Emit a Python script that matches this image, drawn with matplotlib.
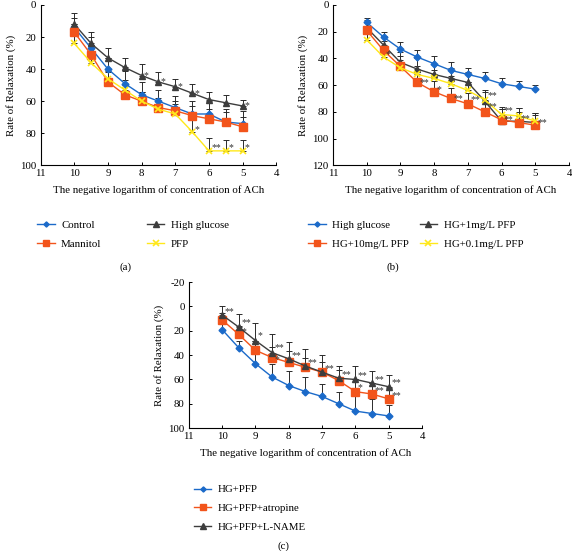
import numpy as np
import matplotlib
matplotlib.use("Agg")
import matplotlib.pyplot as plt

plt.rcParams['font.family'] = ['Liberation Serif', 'DejaVu Serif']
plt.rcParams['font.size'] = 7.8
plt.rcParams['axes.unicode_minus'] = False

# concentration points (-log[ACh])
x = [10, 9.5, 9, 8.5, 8, 7.5, 7, 6.5, 6, 5.5, 5]

# panel (a)
a_names = ['Control', 'High glucose', 'Mannitol', 'PFP']
a_control = [14, 27, 40, 49, 56, 60, 64, 68, 68, 73, 74]
a_control_err = [6, 7, 7, 8, 8, 7, 7, 8, 8, 8, 8]
a_hg = [12, 24, 33, 39, 44, 48, 51, 55, 59, 61, 63]
a_hg_err = [7, 7, 6, 6, 7, 6, 5, 6, 5, 5, 4]
a_mann = [17, 31, 48, 56, 60, 64, 66, 69, 71, 73, 76]
a_mann_err = [5, 6, 6, 6, 6, 6, 6, 6, 6, 6, 6]
a_pfp = [24, 36, 46, 53, 60, 65, 68, 79, 91, 91, 91]
a_pfp_err = [5, 5, 5, 6, 6, 6, 6, 7, 8, 7, 7]
a_stars = [(8, 44, '*'), (7.5, 48, '*'), (7, 51, '*'), (6.5, 55, '*'), (5, 63, '*'),
           (6.5, 78, '*'), (6, 89, '**'), (5.5, 89, '*'), (5, 89, '*')]

# panel (b)
b_names = ['High glucose', 'HG+1mg/L PFP', 'HG+10mg/L PFP', 'HG+0.1mg/L PFP']
b_hg = [13, 24, 33, 39, 44, 49, 52, 55, 59, 61, 63]
b_hg_err = [3, 4, 5, 5, 6, 6, 5, 5, 4, 4, 3]
b_p1 = [17, 30, 43, 48, 52, 55, 58, 72, 87, 87, 88]
b_p1_err = [6, 7, 8, 8, 8, 8, 8, 8, 9, 10, 7]
b_p10 = [19, 34, 46, 58, 65, 70, 74, 80, 86, 88, 90]
b_p10_err = [6, 7, 8, 8, 8, 8, 8, 8, 8, 8, 8]
b_p01 = [26, 39, 47, 52, 55, 59, 64, 71, 82, 83, 87]
b_p01_err = [5, 6, 6, 6, 6, 6, 6, 6, 6, 6, 6]
b_stars = [(9.5, 37, '*'), (8.5, 58, '**'), (8, 63, '*'), (7.5, 70, '**'), (7, 71, '**'),
           (6.5, 68, '**'), (6.5, 76, '**'), (6, 79, '**'), (6, 86, '**'),
           (5.5, 85, '**'), (5, 88, '**')]

# panel (c)
c_names = ['HG+PFP', 'HG+PFP+atropine', 'HG+PFP+L-NAME']
c_hp = [19, 34, 47, 58, 65, 70, 74, 80, 86, 88, 90]
c_hp_err = [5, 6, 8, 11, 12, 12, 10, 10, 13, 12, 9]
c_atr = [11, 23, 36, 42, 46, 50, 54, 61, 70, 72, 76]
c_atr_err = [6, 7, 8, 9, 9, 8, 8, 9, 10, 9, 9]
c_ln = [7, 17, 28, 38, 43, 49, 54, 59, 60, 63, 66]
c_ln_err = [7, 11, 14, 15, 14, 14, 14, 10, 11, 10, 10]
c_stars = [(10, 4, '**'), (9.5, 13, '**'), (9, 24, '*'), (8.5, 34, '**'), (8, 40, '**'),
           (7.5, 46, '**'), (7, 51, '**'), (6.5, 56, '**'), (6, 57, '**'), (5.5, 60, '**'),
           (5, 63, '**'), (9.5, 21, '*'), (8.5, 44, '*'), (6, 67, '*'), (5.5, 69, '**'),
           (5, 73, '**')]

blue = '#1b6ac9'
orange = '#f2541b'
gray = '#3d3d3d'
yellow = '#ffe81a'
styles = {'blue': dict(color=blue, marker='D', ms=3.5),
          'orange': dict(color=orange, marker='s', ms=6),
          'gray': dict(color=gray, marker='^', ms=5),
          'yellow': dict(color=yellow, marker='x', ms=5, mew=1.2)}


def draw(ax, series, ylim, yticks, stars):
    for name, vals, err, st in series:
        ax.errorbar(x, vals, yerr=[err, np.zeros(len(err))], fmt='none',
                    ecolor='#2b2b2b', elinewidth=0.7, capsize=2, capthick=0.7, zorder=1)
    for name, vals, err, st in series:
        s = styles[st]
        ax.plot(x, vals, '-', lw=1.0, label=name, zorder=3, **s)
    for sx, sy, t in stars:
        ax.text(sx - 0.07, sy, t, fontsize=7, ha='left', va='center', color='#333333')
    ax.set_xlim(11, 4)
    ax.set_ylim(ylim[1], ylim[0])
    ax.set_yticks(yticks)
    ax.set_xticks([11, 10, 9, 8, 7, 6, 5, 4])
    ax.spines['top'].set_visible(False)
    ax.spines['right'].set_visible(False)
    ax.tick_params(direction='in', length=2.5, width=0.7, labelsize=7.8, pad=3)
    for sp in ax.spines.values():
        sp.set_linewidth(0.8)
    ax.set_xlabel('The negative logarithm of concentration of ACh', fontsize=7.8, labelpad=5)
    ax.set_ylabel('Rate of Relaxation (%)', fontsize=7.8, labelpad=3)


leg_kw = dict(frameon=False, loc='upper left', handlelength=1.6, markerscale=0.75,
              labelspacing=0.85, fontsize=7.8, handletextpad=0.6)

fig = plt.figure(figsize=(5.72, 5.51), dpi=100)

ax1 = fig.add_axes([0.071, 0.700, 0.412, 0.291])
draw(ax1, [(a_names[0], a_control, a_control_err, 'blue'),
           (a_names[1], a_hg, a_hg_err, 'gray'),
           (a_names[2], a_mann, a_mann_err, 'orange'),
           (a_names[3], a_pfp, a_pfp_err, 'yellow')],
     (0, 100), [0, 20, 40, 60, 80, 100], a_stars)
h, l = ax1.get_legend_handles_labels()
order = [0, 2, 1, 3]
ax1.legend([h[i] for i in order], [l[i] for i in order], ncol=2,
           bbox_to_anchor=(0.048, 0.618), bbox_transform=fig.transFigure,
           columnspacing=4.2, **leg_kw)
fig.text(0.22, 0.51, '(a)', ha='center', fontsize=7.8)

ax2 = fig.add_axes([0.582, 0.700, 0.413, 0.291])
draw(ax2, [(b_names[0], b_hg, b_hg_err, 'blue'),
           (b_names[1], b_p1, b_p1_err, 'gray'),
           (b_names[2], b_p10, b_p10_err, 'orange'),
           (b_names[3], b_p01, b_p01_err, 'yellow')],
     (0, 120), [0, 20, 40, 60, 80, 100, 120], b_stars)
h, l = ax2.get_legend_handles_labels()
ax2.legend([h[i] for i in order], [l[i] for i in order], ncol=2,
           bbox_to_anchor=(0.522, 0.618), bbox_transform=fig.transFigure,
           columnspacing=1.0, **leg_kw)
fig.text(0.687, 0.51, '(b)', ha='center', fontsize=7.8)

ax3 = fig.add_axes([0.330, 0.223, 0.408, 0.265])
draw(ax3, [(c_names[0], c_hp, c_hp_err, 'blue'),
           (c_names[1], c_atr, c_atr_err, 'orange'),
           (c_names[2], c_ln, c_ln_err, 'gray')],
     (-20, 100), [-20, 0, 20, 40, 60, 80, 100], c_stars)
ax3.legend(bbox_to_anchor=(0.322, 0.138), bbox_transform=fig.transFigure, **leg_kw)
fig.text(0.495, 0.004, '(c)', ha='center', fontsize=7.8)

fig.savefig('out.png', dpi=100)
